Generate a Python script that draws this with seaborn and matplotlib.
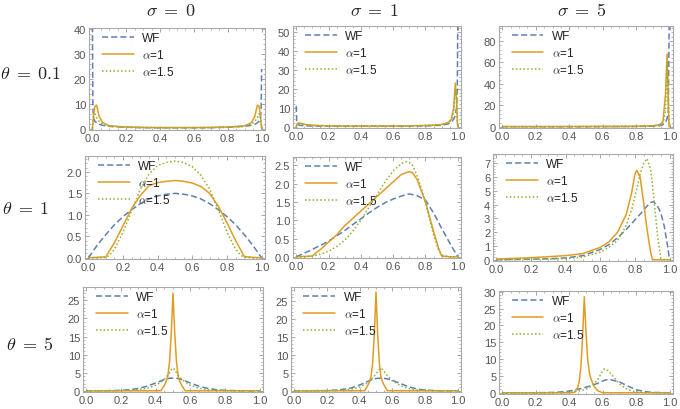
''' density grid: WF vs alpha-stable models for theta / sigma '''

import matplotlib
matplotlib.use("Agg")
import matplotlib.pyplot as plt
from matplotlib.ticker import MultipleLocator, AutoMinorLocator
import seaborn as sns

sns.set_style("ticks")
plt.rcParams["font.family"] = ["Liberation Sans", "DejaVu Sans"]
plt.rcParams["mathtext.fontset"] = "cm"

# ---- data ----
# theta = 0.1
x_t01_s0 = [0, .003, .008, .015, .025, .04, .06, .1, .2, .3, .4, .5, .6, .7, .8, .9, .94, .96, .975, .985, .992, .997, 1.0]
wf_t01_s0 = [45, 8, 4, 3, 2.4, 1.8, 1.4, 1.0, .6, .45, .4, .4, .4, .45, .6, 1.0, 1.4, 1.8, 2.4, 3, 4, 8, 24]
a1_t01_s0 = [0, 2, 6, 9, 9.5, 5, 2.5, 1.2, .7, .55, .5, .5, .5, .55, .7, 1.2, 2.5, 5, 9.5, 9, 6, 2, 0]
a15_t01_s0 = [0, 3, 5.5, 6, 4.5, 3, 1.8, 1.0, .65, .5, .45, .45, .45, .5, .65, 1.0, 1.8, 3, 4.5, 6, 5.5, 3, 0]

x_t01_s1 = [0, .003, .008, .015, .025, .04, .06, .1, .2, .3, .4, .5, .6, .7, .8, .9, .94, .96, .975, .985, .992, .997, 1.0]
wf_t01_s1 = [11, 3, 1.5, 1.0, .8, .6, .5, .4, .3, .3, .3, .3, .3, .35, .45, .8, 1.5, 2.5, 4, 6, 10, 20, 55]
a1_t01_s1 = [0, 1, 1.8, 2, 1.9, 1.6, 1.2, .8, .5, .4, .4, .4, .45, .5, .7, 1.2, 2.2, 4, 10, 23, 15, 3, 0]
a15_t01_s1 = [0, .8, 1.4, 1.6, 1.5, 1.3, 1.0, .7, .45, .35, .35, .35, .4, .45, .6, 1.0, 1.8, 3.5, 8, 20, 17, 4, 0]

x_t01_s5 = [0, .1, .2, .3, .4, .5, .6, .7, .8, .9, .94, .96, .975, .985, .992, .997, 1.0]
wf_t01_s5 = [.1, .1, .1, .1, .1, .1, .15, .2, .3, .6, 1, 2, 4, 8, 15, 95, 95]
a1_t01_s5 = [.2, .2, .2, .2, .25, .3, .35, .4, .5, 1, 2, 5, 30, 68, 20, 0, 0]
a15_t01_s5 = [.15, .15, .15, .15, .2, .25, .3, .35, .45, .8, 1.5, 3, 15, 60, 30, 2, 0]

# theta = 1
x_t1_s0 = [0, .05, .1, .12, .15, .2, .25, .3, .35, .4, .45, .5, .55, .6, .65, .7, .75, .8, .85, .88, .9, .95, 1.0]
wf_t1_s0 = [0, .29, .54, .63, .77, .96, 1.12, 1.26, 1.37, 1.44, 1.48, 1.5, 1.48, 1.44, 1.37, 1.26, 1.12, .96, .77, .63, .54, .29, 0]
a1_t1_s0 = [0, .01, .02, .15, .35, .75, 1.15, 1.45, 1.68, 1.75, 1.78, 1.8, 1.78, 1.74, 1.66, 1.5, 1.2, .82, .4, .18, .03, .01, 0]
a15_t1_s0 = [0, 0, .01, .05, .2, .6, 1.1, 1.6, 1.95, 2.15, 2.22, 2.25, 2.22, 2.12, 1.92, 1.6, 1.12, .6, .2, .06, .01, 0, 0]

x_t1_s1 = [0, .05, .1, .12, .15, .2, .25, .3, .35, .4, .45, .5, .55, .6, .65, .68, .7, .72, .75, .8, .85, .88, .9, .95, 1.0]
wf_t1_s1 = [0, .1, .2, .25, .31, .43, .57, .72, .88, 1.04, 1.2, 1.35, 1.48, 1.58, 1.66, 1.7, 1.72, 1.7, 1.67, 1.55, 1.2, .95, .78, .38, 0]
a1_t1_s1 = [0, .01, .02, .1, .2, .4, .6, .85, 1.05, 1.25, 1.45, 1.65, 1.85, 2.05, 2.25, 2.3, 2.33, 2.3, 2.1, 1.5, .7, .25, .02, 0, 0]
a15_t1_s1 = [0, 0, .02, .04, .07, .15, .28, .45, .7, 1.0, 1.35, 1.7, 2.05, 2.35, 2.55, 2.6, 2.58, 2.5, 2.2, 1.5, .6, .2, .05, 0, 0]

x_t1_s5 = [0, .1, .2, .3, .4, .5, .6, .65, .7, .75, .78, .8, .81, .83, .85, .87, .89, .9, .91, .93, .95, .97, .99, 1.0]
wf_t1_s5 = [0, .02, .04, .07, .13, .3, .75, 1.1, 1.6, 2.2, 2.6, 2.9, 3.05, 3.3, 3.6, 3.9, 4.15, 4.2, 4.2, 3.9, 3.4, 2.4, .9, 0]
a1_t1_s5 = [.05, .1, .15, .22, .3, .45, .9, 1.3, 2.0, 3.3, 4.8, 6.2, 6.5, 6.0, 4.2, 2.2, .6, .05, 0, 0, 0, 0, 0, 0]
a15_t1_s5 = [0, .01, .02, .04, .08, .2, .55, .9, 1.4, 2.5, 3.6, 4.6, 5.1, 6.2, 7.0, 7.35, 6.6, 5.6, 4.4, 1.8, .1, 0, 0, 0]

# theta = 5
x_t5_s0 = [0, .1, .2, .25, .3, .35, .4, .43, .45, .46, .47, .48, .49, .5, .51, .52, .53, .54, .55, .57, .6, .65, .7, .75, .8, .9, 1.0]
wf_t5_s0 = [0, 0, .1, .3, .65, 1.25, 2.15, 2.75, 3.1, 3.25, 3.35, 3.45, 3.5, 3.5, 3.5, 3.45, 3.35, 3.25, 3.1, 2.75, 2.15, 1.25, .65, .3, .1, 0, 0]
a1_t5_s0 = [0, 0, 0, 0, 0, 0, 0, 0, 1.5, 2.5, 4, 8, 16, 27, 16, 8, 4, 2.5, 1.5, 0, 0, 0, 0, 0, 0, 0, 0]
a15_t5_s0 = [0, 0, .05, .15, .35, .7, 1.5, 2.4, 3.2, 3.7, 4.3, 5.0, 5.8, 6.3, 5.8, 5.0, 4.3, 3.7, 3.2, 2.4, 1.5, .7, .35, .15, .05, 0, 0]

x_t5_s1 = [0, .1, .2, .25, .3, .35, .4, .43, .45, .46, .47, .48, .49, .5, .51, .52, .53, .54, .55, .57, .6, .65, .7, .75, .8, .9, 1.0]
wf_t5_s1 = [0, 0, .05, .15, .4, .8, 1.6, 2.2, 2.6, 2.8, 3.0, 3.15, 3.3, 3.4, 3.45, 3.5, 3.5, 3.48, 3.45, 3.3, 2.9, 2.0, 1.1, .5, .15, 0, 0]
a1_t5_s1 = [0, 0, 0, 0, 0, 0, 0, 0, 1.5, 2.5, 4, 8, 16, 27.5, 16, 8, 4, 2.5, 1.5, 0, 0, 0, 0, 0, 0, 0, 0]
a15_t5_s1 = [0, 0, .02, .08, .2, .45, 1.0, 1.7, 2.3, 2.7, 3.1, 3.6, 4.1, 4.7, 5.3, 5.9, 6.3, 5.9, 5.3, 4.2, 2.8, 1.4, .6, .25, .08, 0, 0]

x_t5_s5 = [0, .1, .2, .3, .35, .4, .43, .45, .46, .47, .48, .49, .5, .51, .52, .53, .55, .57, .6, .61, .63, .65, .7, .75, .8, .85, .9, 1.0]
wf_t5_s5 = [0, 0, 0, .1, .25, .5, .8, 1.0, 1.15, 1.25, 1.4, 1.5, 1.65, 1.8, 1.95, 2.1, 2.45, 2.8, 3.5, 3.7, 3.9, 3.85, 3.2, 2.0, .9, .35, .1, 0]
a1_t5_s5 = [0, 0, 0, 0, 0, 0, .1, 1.5, 3.5, 8, 17, 28.5, 18, 10, 6, 4, 1.8, .6, 0, 0, 0, 0, 0, 0, 0, 0, 0, 0]
a15_t5_s5 = [0, 0, 0, .02, .05, .15, .3, .45, .55, .65, .8, .95, 1.1, 1.3, 1.6, 1.9, 2.8, 3.9, 6.5, 7.1, 6.6, 5.6, 2.6, .9, .25, .08, .02, 0]

row_labels = [r"$\theta\;=\;0.1$", r"$\theta\;=\;1$", r"$\theta\;=\;5$"]
col_labels = [r"$\sigma\;=\;0$", r"$\sigma\;=\;1$", r"$\sigma\;=\;5$"]
series_labels = ["WF", r"$\alpha$=1", r"$\alpha$=1.5"]

panels = [
    [(x_t01_s0, wf_t01_s0, a1_t01_s0, a15_t01_s0), (x_t01_s1, wf_t01_s1, a1_t01_s1, a15_t01_s1), (x_t01_s5, wf_t01_s5, a1_t01_s5, a15_t01_s5)],
    [(x_t1_s0, wf_t1_s0, a1_t1_s0, a15_t1_s0), (x_t1_s1, wf_t1_s1, a1_t1_s1, a15_t1_s1), (x_t1_s5, wf_t1_s5, a1_t1_s5, a15_t1_s5)],
    [(x_t5_s0, wf_t5_s0, a1_t5_s0, a15_t5_s0), (x_t5_s1, wf_t5_s1, a1_t5_s1, a15_t5_s1), (x_t5_s5, wf_t5_s5, a1_t5_s5, a15_t5_s5)],
]

# y axis: top limit and major step per panel
ytops = [[40.5, 53, 94], [2.37, 2.73, 7.68], [28.7, 28.9, 30.2]]
ysteps = [[10, 10, 20], [0.5, 0.5, 1], [5, 5, 5]]

# frame boxes in pixels: left, right, top, bottom
boxes = [
    [(89, 265, 29, 131), (293, 461, 27, 129), (499, 673, 27, 129)],
    [(85, 265, 157, 260), (293, 461, 158, 259), (493, 673, 155, 262)],
    [(83, 263, 288, 393), (291, 461, 288, 393), (499, 673, 292, 395)],
]

colors = ["#5E81B5", "#E19C24", "#8FB032"]
styles = [(0, (4, 2)), "-", (0, (1, 1.5))]

W, H = 680, 410
fig = plt.figure(figsize=(6.8, 4.1), dpi=100)

for r in range(3):
    for c in range(3):
        l, rr, t, b = boxes[r][c]
        ax = fig.add_axes([l / W, 1 - b / H, (rr - l) / W, (b - t) / H])
        xs = panels[r][c][0]
        for k in range(3):
            sns.lineplot(x=xs, y=panels[r][c][k + 1], ax=ax, color=colors[k],
                         linestyle=styles[k], lw=1.1, label=series_labels[k],
                         estimator=None, sort=False)
        top = ytops[r][c]
        ax.set_xlim(-0.02, 1.02)
        ax.set_ylim(-0.012 * top, top)
        ax.xaxis.set_major_locator(MultipleLocator(0.2))
        ax.xaxis.set_minor_locator(AutoMinorLocator(4))
        ax.yaxis.set_major_locator(MultipleLocator(ysteps[r][c]))
        ax.yaxis.set_minor_locator(AutoMinorLocator(5))
        ax.tick_params(which="both", direction="in", top=True, right=True,
                       color="#999999", labelcolor="#555555", labelsize=8, pad=2)
        ax.tick_params(which="major", length=3, width=0.6)
        ax.tick_params(which="minor", length=1.5, width=0.5)
        for sp in ax.spines.values():
            sp.set_color("#aaaaaa")
            sp.set_linewidth(0.8)
        ax.set_xlabel("")
        ax.set_ylabel("")
        leg = ax.legend(loc="upper left", bbox_to_anchor=(0.045, 1.01), frameon=False,
                        fontsize=8.5, handlelength=2.7, handletextpad=0.7,
                        labelspacing=0.35, borderaxespad=0, borderpad=0.4)
        for txt in leg.get_texts():
            txt.set_color("#222222")

for i, lab in enumerate(row_labels):
    fig.text([31, 26, 30][i] / W, 1 - [75, 210, 346][i] / H, lab,
             fontsize=13, ha="center", va="center")
for i, lab in enumerate(col_labels):
    fig.text([171, 374, 582][i] / W, 1 - 11 / H, lab,
             fontsize=13, ha="center", va="center")

fig.savefig("out.png", dpi=100)
